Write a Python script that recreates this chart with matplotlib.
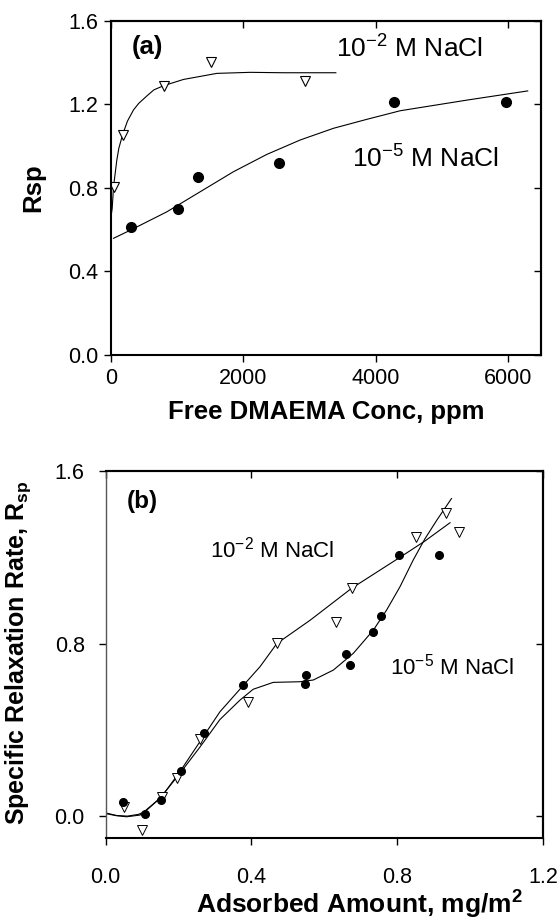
import matplotlib
matplotlib.use('Agg')
import matplotlib.pyplot as plt

plt.rcParams['font.family'] = ['Liberation Sans', 'DejaVu Sans']
plt.rcParams['mathtext.fontset'] = 'custom'
plt.rcParams['mathtext.rm'] = 'Liberation Sans'
plt.rcParams['mathtext.it'] = 'Liberation Sans:italic'
plt.rcParams['mathtext.bf'] = 'Liberation Sans:bold'
plt.rcParams['mathtext.default'] = 'regular'

### (a) Rsp vs free DMAEMA conc
a_tri_x = [40, 176, 796, 1512, 2933]
a_tri_y = [0.806, 1.054, 1.29, 1.405, 1.312]
a_dot_x = [302, 1007, 1320, 2544, 4272, 5976]
a_dot_y = [0.615, 0.699, 0.851, 0.921, 1.213, 1.213]

# fitted lines
a_fit2_x = [10, 20, 40, 90, 120, 176, 250, 342, 420, 544, 650, 796, 1098, 1602, 2106, 2610, 3400]
a_fit2_y = [0.68, 0.703, 0.806, 0.934, 0.99, 1.054, 1.12, 1.174, 1.205, 1.241, 1.27, 1.29, 1.32, 1.349, 1.354, 1.352, 1.352]
a_fit5_x = [40, 302, 847, 1350, 1853, 2358, 2862, 3365, 3870, 4373, 5382, 6300]
a_fit5_y = [0.559, 0.599, 0.686, 0.782, 0.878, 0.961, 1.03, 1.086, 1.129, 1.17, 1.221, 1.265]

### (b) Rsp vs adsorbed amount
b_dot_x = [0.047, 0.108, 0.152, 0.207, 0.269, 0.378, 0.549, 0.546, 0.661, 0.670, 0.735, 0.755, 0.804, 0.915]
b_dot_y = [0.064, 0.012, 0.077, 0.209, 0.386, 0.606, 0.654, 0.614, 0.753, 0.700, 0.853, 0.926, 1.212, 1.212]
b_tri_x = [0.052, 0.101, 0.154, 0.195, 0.259, 0.390, 0.470, 0.631, 0.675, 0.851, 0.934, 0.971]
b_tri_y = [0.043, -0.065, 0.087, 0.175, 0.357, 0.527, 0.801, 0.901, 1.056, 1.294, 1.405, 1.317]

b_fit2_x = [0.0, 0.03, 0.06, 0.09, 0.108, 0.154, 0.204, 0.259, 0.314, 0.378, 0.424, 0.470, 0.562, 0.675, 0.808, 0.876, 0.945]
b_fit2_y = [0.015, 0.003, 0.0, 0.008, 0.02, 0.09, 0.206, 0.345, 0.484, 0.606, 0.693, 0.80, 0.909, 1.056, 1.20, 1.275, 1.36]
b_fit5_x = [0.0, 0.03, 0.058, 0.095, 0.149, 0.204, 0.259, 0.314, 0.369, 0.405, 0.46, 0.534, 0.57, 0.625, 0.68, 0.735, 0.771, 0.808, 0.844, 0.876, 0.91, 0.949]
b_fit5_y = [0.012, 0.002, -0.003, 0.005, 0.082, 0.198, 0.32, 0.448, 0.538, 0.588, 0.62, 0.623, 0.631, 0.677, 0.755, 0.863, 0.955, 1.064, 1.187, 1.285, 1.375, 1.472]


def frame(ax, left_color='black', left_lw=1.5):
    for s in ['top', 'right', 'bottom']:
        ax.spines[s].set_linewidth(1.5)
    ax.spines['left'].set_linewidth(left_lw)
    ax.spines['left'].set_color(left_color)
    ax.tick_params(direction='out', length=5, width=1.0, top=False, right=False)
    # mirrored ticks point inward on top / right
    tx = ax.secondary_xaxis('top')
    tx.set_xticks(ax.get_xticks())
    tx.tick_params(direction='in', length=5, width=1.0, labeltop=False)
    ty = ax.secondary_yaxis('right')
    ty.set_yticks(ax.get_yticks())
    ty.tick_params(direction='in', length=5, width=1.0, labelright=False)
    for t in (tx, ty):
        for s in t.spines.values():
            s.set_linewidth(1.5)


fig = plt.figure(figsize=(5.6, 9.24), dpi=100)

##### (a)
ax1 = fig.add_axes([0.198, 0.6158, 0.768, 0.3615])
ax1.plot(a_fit2_x, a_fit2_y, color='black', lw=0.8)
ax1.plot(a_fit5_x, a_fit5_y, color='black', lw=0.8)
ax1.plot(a_tri_x, a_tri_y, 'v', ms=7.5, mfc='white', mec='black', mew=0.8)
ax1.plot(a_dot_x, a_dot_y, 'o', ms=7, color='black')
ax1.set_xlim(0, 6500)
ax1.set_ylim(0, 1.6)
ax1.set_xticks([0, 2000, 4000, 6000])
ax1.set_yticks([0.0, 0.4, 0.8, 1.2, 1.6])
ax1.set_yticklabels(['0.0', '0.4', '0.8', '1.2', '1.6'])
frame(ax1)
ax1.tick_params(axis='both', labelsize=15.5, pad=4)
ax1.set_xlabel('Free DMAEMA Conc, ppm', fontsize=18.5, fontweight='bold')
ax1.xaxis.set_label_coords(0.5, -0.135)
ax1.set_ylabel('Rsp', fontsize=18.5, fontweight='bold')
ax1.yaxis.set_label_coords(-0.153, 0.5)
ax1.text(556, 1.477, '(a)', ha='center', va='center', fontsize=18.5, fontweight='bold')
ax1.text(3406, 1.423, '10$^{-2}$ M NaCl', ha='left', va='baseline', fontsize=19)
ax1.text(3648, 0.896, '10$^{-5}$ M NaCl', ha='left', va='baseline', fontsize=19)

##### (b)
ax2 = fig.add_axes([0.1884, 0.0934, 0.7812, 0.3969])
ax2.plot(b_fit2_x, b_fit2_y, color='black', lw=0.8)
ax2.plot(b_fit5_x, b_fit5_y, color='black', lw=0.8)
ax2.plot(b_tri_x, b_tri_y, 'v', ms=7, mfc='white', mec='black', mew=0.7)
ax2.plot(b_dot_x, b_dot_y, 'o', ms=5.5, color='black')
ax2.set_xlim(0, 1.2)
ax2.set_ylim(-0.1, 1.6)
ax2.set_xticks([0.0, 0.4, 0.8, 1.2])
ax2.set_xticklabels(['0.0', '0.4', '0.8', '1.2'])
ax2.set_yticks([0.0, 0.8, 1.6])
ax2.set_yticklabels(['0.0', '0.8', '1.6'])
frame(ax2, left_color='#555555', left_lw=1.0)
ax2.tick_params(axis='x', labelsize=15.5, pad=16)
ax2.tick_params(axis='y', labelsize=15.5, pad=10)
ax2.set_xlabel('Adsorbed Amount, mg/m$\\mathbf{^2}$', fontsize=19, fontweight='bold')
ax2.xaxis.set_label_coords(0.58, -0.14)
ax2.set_ylabel('Specific Relaxation Rate, R$\\mathbf{_{sp}}$', fontsize=18, fontweight='bold')
ax2.yaxis.set_label_coords(-0.165, 0.505)
ax2.text(0.10, 1.46, '(b)', ha='center', va='center', fontsize=17.5, fontweight='bold')
ax2.text(0.287, 1.20, '10$^{-2}$ M NaCl', ha='left', va='baseline', fontsize=16)
ax2.text(0.781, 0.655, '10$^{-5}$ M NaCl', ha='left', va='baseline', fontsize=16)

fig.savefig('out.png', dpi=100)
